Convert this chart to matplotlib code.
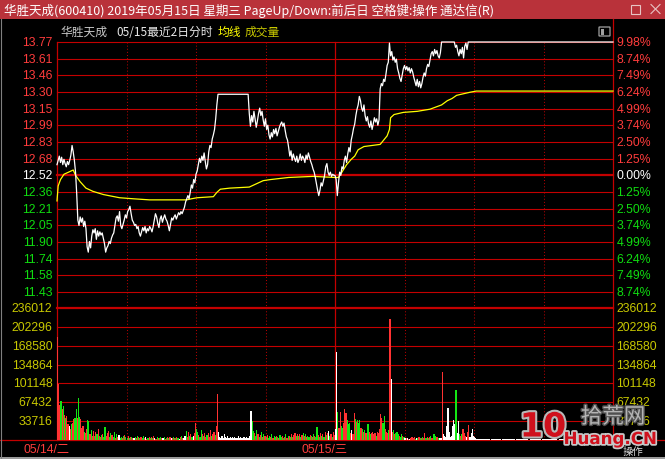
import numpy as np
import matplotlib
matplotlib.use('Agg')
import matplotlib.pyplot as plt
import matplotlib.patheffects as pe
from matplotlib.patches import Rectangle, FancyBboxPatch

plt.rcParams['font.family'] = ['Noto Sans CJK SC', 'DejaVu Sans']
num_font = ['Liberation Sans', 'Noto Sans CJK SC']

# %% dados
title = '华胜天成(600410) 2019年05月15日 星期三 PageUp/Down:前后日 空格键:操作 通达信(R)'
pre_close = 12.52
limit_up = 13.77
price_labels = ['13.77', '13.61', '13.46', '13.30', '13.15', '12.99', '12.83', '12.68',
                '12.52', '12.36', '12.21', '12.05', '11.90', '11.74', '11.58', '11.43']
pct_labels = ['9.98%', '8.74%', '7.49%', '6.24%', '4.99%', '3.74%', '2.50%', '1.25%',
              '0.00%', '1.25%', '2.50%', '3.74%', '4.99%', '6.24%', '7.49%', '8.74%']
vol_labels = ['236012', '202296', '168580', '134864', '101148', '67432', '33716']
vol_step = 33716
day_labels = ['05/14/二', '05/15/三']

# preco (minuto, preco) - 2 dias, 480 minutos
price_min = list(range(0, 140)) + [165] + list(range(166, 333)) + [343] + list(range(344, 356)) + [480]
price_val = [
    12.62, 12.66, 12.70, 12.64, 12.69, 12.62, 12.67, 12.63, 12.60, 12.65,
    12.62, 12.66, 12.71, 12.80, 12.74, 12.66, 12.55, 12.35, 12.10, 12.05,
    12.13, 12.08, 12.12, 12.04, 12.09, 12.02, 11.85, 11.80, 11.90, 11.84,
    11.95, 12.01, 11.98, 12.02, 11.92, 12.00, 11.95, 11.99, 11.96, 11.98,
    11.93, 11.88, 11.80, 11.84, 11.86, 11.90, 11.88, 11.93, 11.96, 11.98,
    12.05, 12.12, 12.14, 12.09, 12.18, 12.05, 12.02, 12.06, 12.10, 12.15,
    12.12, 12.18, 12.20, 12.23, 12.16, 12.10, 12.08, 12.05, 12.06, 12.02,
    12.04, 11.98, 11.95, 11.99, 12.03, 12.00, 12.04, 11.98, 12.02, 12.00,
    12.04, 12.02, 11.99, 12.04, 12.10, 12.16, 12.13, 12.07, 12.03, 12.11,
    12.14, 12.08, 12.12, 12.15, 12.11, 12.09, 12.05, 12.00, 12.06, 12.12,
    12.10, 12.13, 12.15, 12.11, 12.14, 12.17, 12.15, 12.18, 12.16, 12.19,
    12.22, 12.27, 12.30, 12.33, 12.30, 12.36, 12.43, 12.40, 12.48, 12.45,
    12.53, 12.56, 12.62, 12.68, 12.64, 12.70, 12.66, 12.73, 12.65, 12.58,
    12.62, 12.74, 12.80, 12.78, 12.86, 12.90, 12.95, 13.05, 13.18, 13.28,
    13.28,
    13.10, 12.98, 13.08, 13.02, 13.12, 13.05, 12.97, 13.03, 13.10, 13.15,
    13.08, 13.12, 13.04, 12.98, 13.05, 12.95, 12.99, 12.90, 12.86, 12.92,
    12.88, 12.95, 12.91, 12.96, 12.89, 12.93, 12.97, 13.00, 13.02, 12.98,
    13.01, 12.94, 12.88, 12.85, 12.78, 12.70, 12.75, 12.66, 12.72, 12.68,
    12.65, 12.70, 12.64, 12.67, 12.72, 12.66, 12.70, 12.68, 12.64, 12.71,
    12.67, 12.73, 12.69, 12.65, 12.62, 12.58, 12.55, 12.50, 12.44, 12.38,
    12.33, 12.38, 12.45, 12.42, 12.47, 12.52, 12.60, 12.63, 12.55, 12.52,
    12.55, 12.51, 12.53, 12.52,
    12.52, 12.48, 12.33, 12.45, 12.55, 12.52, 12.60, 12.58, 12.66, 12.70,
    12.64, 12.72, 12.78, 12.74, 12.85, 12.90, 12.96, 13.00, 13.08, 13.14,
    13.18, 13.26, 13.22, 13.15, 13.12, 13.18, 13.08, 13.03, 13.07, 13.00,
    12.97, 13.03, 12.95, 13.00, 13.06, 13.02, 13.05, 12.99, 13.04, 13.33,
    13.38, 13.36, 13.42, 13.40, 13.47, 13.55, 13.58, 13.76, 13.64, 13.68,
    13.60, 13.63, 13.58, 13.61, 13.52, 13.48, 13.43, 13.40, 13.46, 13.52,
    13.55, 13.51, 13.54, 13.50, 13.53, 13.48, 13.52, 13.49, 13.44, 13.40,
    13.36, 13.42, 13.35, 13.40, 13.34, 13.38, 13.44, 13.48, 13.45, 13.52,
    13.56, 13.54, 13.60, 13.66, 13.68, 13.64, 13.70, 13.66, 13.69, 13.64,
    13.62, 13.67, 13.77,
    13.77,
    13.72, 13.74, 13.68, 13.64, 13.70, 13.66, 13.72, 13.62, 13.73, 13.76,
    13.70, 13.77,
    13.77,
]

# linha de preco medio (amarela)
avg_min = [0, 1, 3, 6, 10, 14, 16, 20, 25, 31, 40, 54, 66, 80, 112, 116, 121, 135, 138, 141,
           149, 166, 178, 184, 200, 221, 240, 243, 246, 250, 254, 257, 260, 265, 279, 285, 287,
           288, 291, 299, 311, 322, 332, 337, 341, 345, 357, 362, 480]
avg_val = [12.28, 12.42, 12.48, 12.53, 12.55, 12.57, 12.52, 12.46, 12.40, 12.37, 12.34, 12.31,
           12.30, 12.29, 12.29, 12.30, 12.31, 12.32, 12.36, 12.39, 12.40, 12.41, 12.47, 12.48,
           12.50, 12.51, 12.50, 12.50, 12.55, 12.62, 12.67, 12.70, 12.76, 12.79, 12.81, 12.89,
           12.95, 13.06, 13.09, 13.11, 13.12, 13.14, 13.18, 13.22, 13.24, 13.27, 13.30, 13.31,
           13.31]

# volume por minuto (mil), dia 05/14
vol_day1 = [
    185, 100, 62, 70, 55, 60, 45, 40, 43, 28,
    25, 20, 29, 30, 38, 40, 55, 40, 75, 42,
    38, 22, 25, 15, 12, 20, 36, 34, 10, 18,
    7, 16, 8, 14, 10, 20, 7, 5, 9, 10,
    6, 23, 8, 12, 16, 5, 13, 9, 6, 14,
    4, 10, 6, 9, 4, 6, 3, 7, 9, 5,
    4, 8, 3, 6, 5, 4, 3, 6, 4, 7,
    5, 3, 6, 4, 8, 3, 5, 2, 4, 6,
    3, 5, 4, 7, 3, 2, 5, 4, 3, 6,
    4, 3, 5, 2, 4, 6, 3, 5, 4, 3,
    5, 4, 3, 6, 4, 2, 5, 7, 4, 3,
    8, 16, 5, 14, 7, 10, 6, 8, 12, 30,
    20, 15, 9, 6, 18, 10, 7, 12, 5, 9,
    12, 5, 18, 8, 10, 14, 9, 25, 82, 15,
    6, 4, 8, 4, 10, 5, 3, 7, 4, 6,
    3, 5, 4, 6, 3, 4, 7, 3, 5, 4,
    3, 6, 4, 5, 3, 4, 8, 52, 34, 16,
    12, 8, 17, 10, 6, 9, 14, 5, 11, 7,
    6, 9, 4, 8, 5, 10, 4, 7, 5, 8,
    6, 4, 9, 5, 7, 3, 6, 10, 4, 7,
    8, 5, 10, 6, 9, 12, 7, 10, 8, 11,
    6, 9, 12, 7, 10, 5, 8, 6, 9, 7,
    5, 10, 8, 6, 23, 9, 5, 12, 7, 10,
    6, 14, 9, 12, 16, 8, 10, 5, 14, 9,
]
col_day1 = ('rrrgrgrgrr' 'wrgrrggrgg' 'rrrgrrggrg' 'rrgrgrgrgr' 'ggrrrggrgg' 'rgrwggrgrg'
            'grgrgrwgrg' 'rgrggrwrgr' 'grgrwrgrgg' 'rwgrgrgrwr' 'grgrgwrgrw' 'wgrrgrgwrr'
            'ggrggrgrrg' 'rrrgrrgrrw' 'wwwwwwwwww' 'wwwwwwwwww' 'wwwwwwwwgg' 'rggrgrgrgr'
            'grggrgrggr' 'grggrgrgrg' 'rgrgrrgrgr' 'grgrgrggrg' 'rgrggrgrgr' 'grgrwgrgrr')

# volume por minuto (mil), dia 05/15
vol_day2 = [
    20, 158, 50, 22, 50, 25, 22, 30, 55, 48,
    35, 28, 30, 12, 18, 10, 48, 38, 32, 36,
    30, 35, 22, 20, 15, 18, 12, 13, 28, 15,
    10, 12, 14, 10, 12, 8, 14, 12,
    20, 46, 40, 30, 43, 20, 14, 12, 18, 216,
    109, 15, 18, 10, 12, 14, 10, 8, 6, 10,
    7, 5, 3, 4, 3, 2, 2, 3, 5, 3,
    6, 2, 3, 4, 6, 3, 4, 5, 3, 12,
    4, 5, 3, 5, 8, 4, 3, 10, 7, 6,
    5, 3, 4, 3, 122, 10, 8, 6, 25, 57,
    14, 5, 8, 25, 36, 28, 89, 12, 34, 10,
    8, 10, 20, 12, 8, 6, 14, 27, 5, 12,
    19, 8,
    6, 3, 2, 2, 1, 2, 1, 2, 1, 1,
    2, 1, 1, 2, 0, 1, 2, 1, 1, 2,
    1, 2, 1, 0, 2, 1, 1, 2, 1, 1,
    2, 1, 1, 2, 1, 0, 1, 2, 1, 1,
    1, 2, 1, 1, 2, 1, 1, 0, 2, 1,
    2, 1, 1, 2, 1, 1, 2, 1, 0, 1,
    1, 2, 1, 1, 2, 1, 1, 2, 1, 1,
    2, 1, 0, 1, 2, 1, 1, 2, 1, 1,
    1, 1, 2, 1, 1, 2, 0, 1, 1, 2,
    1, 2, 1, 1, 0, 2, 1, 1, 2, 1,
    1, 1, 2, 1, 1, 2, 1, 0, 1, 2,
    1, 2, 1, 1, 2, 1, 1, 1, 2, 1,
]
col_day2 = ('wwgrrggrrr' 'gggrwrrgrg' 'ggrgrgrrgr' 'grrrrgrr' 'rrrggrrrgr' 'wrgrgggrgg'
            'rgwrwrwrrr' 'rgwgrgrgrr' 'grgrgrrggr' 'rgwwrwwwww' 'wwwwwwgwwg' 'rgrrrwrrww'
            'ww' 'wwwwwwwwww' 'wwwwwwwwww' 'wwwwwwwwww' 'wwwwwwwwww' 'wwwwwwwwww'
            'wwwwwwwwww' 'wwwwwwwwww' 'wwwwwwwwww' 'wwwwwwwwww' 'wwwwwwwwww' 'wwwwwwwwww'
            'wwwwwwwwww')

# %% cores
bg_black = '#000000'
title_red = '#b9323a'
grid_red = '#c40000'
up_red = '#ff3c3c'
down_green = '#10dc10'
vol_yellow = '#c8c800'
bar_colors = {'r': '#ff3232', 'g': '#14e614', 'w': '#ffffff'}

W, H = 665, 460
L, R = 57, 613
P_TOP, P_BOT = 43, 293
V_TOP, V_BOT = 309, 441


def px_rect(l, t, r, b):
    return [l / W, 1 - b / H, (r - l) / W, (b - t) / H]


fig = plt.figure(figsize=(W / 100, H / 100), dpi=100, facecolor=bg_black)

# fundo / moldura em pixels
bg = fig.add_axes([0, 0, 1, 1], zorder=0)
bg.set_xlim(0, W)
bg.set_ylim(H, 0)
bg.set_axis_off()

bg.add_patch(Rectangle((0, 0), W, 20, color=title_red, lw=0))
bg.text(4, 10.5, title, color='white', fontsize=9, va='center', ha='left')
bg.add_patch(Rectangle((630.5, 5.5), 9, 9, fill=False, ec='#e8c4c4', lw=0.8))
bg.plot([651, 660], [5.5, 14.5], color='#e8c4c4', lw=0.8)
bg.plot([651, 660], [14.5, 5.5], color='#e8c4c4', lw=0.8)

bg.text(60, 32, '华胜天成', color='#c8c8c8', fontsize=8.5, va='center')
bg.text(116, 32, '05/15最近2日分时', color='#e8e8e8', fontsize=8.5, va='center')
bg.text(218, 32, '均线', color='#ffff00', fontsize=8.5, va='center')
bg.text(245, 32, '成交量', color=vol_yellow, fontsize=8.5, va='center')
bg.add_patch(FancyBboxPatch((599.5, 28.5), 10, 8, boxstyle='round,pad=0.5',
                            fill=False, ec='#a0a0a0', lw=0.9))
bg.add_patch(Rectangle((600.5, 29.5), 3, 6, color='#a0a0a0', lw=0))

# linhas verticais
bg.plot([L, L], [P_TOP, V_BOT], color=grid_red, lw=0.9)
bg.plot([R, R], [20, V_BOT], color=grid_red, lw=0.9)
bg.plot([0, W], [V_BOT, V_BOT], color=grid_red, lw=0.9)
for g in [60, 120, 180, 300, 360, 420]:
    xg = L + g * (R - L) / 480
    bg.plot([xg, xg], [P_TOP, V_BOT], color='#b00000', lw=0.75, ls=(0, (1, 2)))
xd = L + 240 * (R - L) / 480
bg.plot([xd, xd], [P_TOP, V_BOT], color=grid_red, lw=0.9)

bg.text(47, 450.5, day_labels[0], color=up_red, fontsize=8.8, family=num_font,
        ha='center', va='center')
bg.text(325, 450.5, day_labels[1], color=up_red, fontsize=8.8, family=num_font,
        ha='center', va='center')
bg.text(633, 452, '操作', color='#d8d8d8', fontsize=7.5, ha='center', va='center')
bg.add_patch(Rectangle((0, 457.5), W, 3, color='#9a9a9a', lw=0))
bg.plot([0.5, 0.5], [20, 460], color='#808080', lw=0.8)

# %% grafico de preco
ax_p = fig.add_axes(px_rect(L, P_TOP, R, P_BOT), zorder=1)
ax_p.set_axis_off()
ax_p.patch.set_alpha(0)
step = (limit_up - pre_close) / 8
levels = pre_close + step * np.arange(8, -8, -1)
ax_p.set_xlim(0, 480)
ax_p.set_ylim(levels[-1], levels[0])

for i, lv in enumerate(levels):
    lw = 1.6 if i == 8 else 0.8
    ax_p.axhline(lv, color=grid_red, lw=lw, clip_on=False, zorder=1)
    if i < 8:
        c = up_red
    elif i == 8:
        c = 'white'
    else:
        c = down_green
    ax_p.annotate(price_labels[i], xy=(0, lv), xycoords=('axes fraction', 'data'),
                  xytext=(-4.5, 0), textcoords='offset pixels', ha='right', va='center',
                  color=c, fontsize=8.8, family=num_font)
    ax_p.annotate(pct_labels[i], xy=(1, lv), xycoords=('axes fraction', 'data'),
                  xytext=(3.5, 0), textcoords='offset pixels', ha='left', va='center',
                  color=c, fontsize=8.8, family=num_font)

ax_p.plot(avg_min, avg_val, color='#ffff00', lw=0.9, clip_on=False, zorder=3)
ax_p.plot(price_min, price_val, color='white', lw=0.9, clip_on=False, zorder=4)

# %% grafico de volume
ax_v = fig.add_axes(px_rect(L, V_TOP, R, V_BOT), zorder=1)
ax_v.set_axis_off()
ax_v.patch.set_alpha(0)
ax_v.set_xlim(0, 480)
ax_v.set_ylim(0, 7 * vol_step)

for k, lab in enumerate(vol_labels):
    lv = (7 - k) * vol_step
    ax_v.axhline(lv, color=grid_red, lw=1.6 if k == 0 else 0.8, clip_on=False, zorder=1)
    ax_v.annotate(lab, xy=(0, lv), xycoords=('axes fraction', 'data'),
                  xytext=(-4.5, 0), textcoords='offset pixels', ha='right', va='center',
                  color=vol_yellow, fontsize=8.8, family=num_font)
    ax_v.annotate(lab, xy=(1, lv), xycoords=('axes fraction', 'data'),
                  xytext=(3.5, 0), textcoords='offset pixels', ha='left', va='center',
                  color=vol_yellow, fontsize=8.8, family=num_font)

vols = np.array(vol_day1 + vol_day2) * 1000
cols = [bar_colors[c] for c in col_day1 + col_day2]
minutes = np.arange(len(vols)) + 0.5
ax_v.bar(minutes, vols, width=1.0, color=cols, linewidth=0, antialiased=False, zorder=3)

# %% marca d'agua
wm = fig.add_axes([0, 0, 1, 1], zorder=5)
wm.set_xlim(0, W)
wm.set_ylim(H, 0)
wm.set_axis_off()
wm.patch.set_alpha(0)
wm.text(543, 428, '10', color='#d0101c', fontsize=24, fontweight='bold', family='DejaVu Sans',
        ha='center', va='center',
        path_effects=[pe.withStroke(linewidth=3, foreground='#b8b8b8')])
wm.text(613, 418, '拾荒网', color='#b4b4b4', fontsize=15.5, ha='center', va='center',
        path_effects=[pe.withStroke(linewidth=2, foreground='#505050')])
wm.text(610, 440, 'Huang.CN', color='#d0101c', fontsize=12, fontweight='bold',
        family='DejaVu Sans', ha='center', va='center',
        path_effects=[pe.withStroke(linewidth=2.5, foreground='#c8c8c8')])

fig.savefig('out.png', dpi=100, facecolor=bg_black)
